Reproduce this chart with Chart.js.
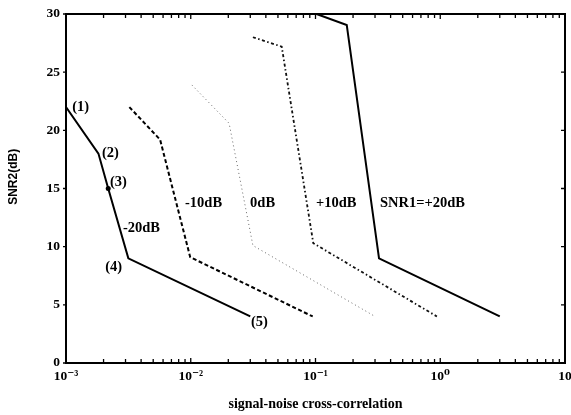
<!DOCTYPE html>
<html>
<head>
<meta charset="utf-8">
<script src="https://cdn.jsdelivr.net/npm/chart.js@4.4.0/dist/chart.umd.min.js"></script>
<style>
  html, body { margin: 0; padding: 0; background: #fff; }
  #wrap { width: 571px; height: 415px; }
</style>
</head>
<body>
<div id="wrap"><canvas id="c" width="571" height="415"></canvas></div>
<script>
// ---- data ----
const seriesNames = ['-20dB', '-10dB', '0dB', '+10dB', 'SNR1=+20dB'];
const xM20 = [0.001, 0.00182, 0.00218, 0.00316, 0.03];
const yM20 = [22, 18, 15, 9, 4];
const xM10 = [0.00322, 0.00568, 0.0099, 0.095];
const yM10 = [22, 19.2, 9.1, 4];
const x0 = [0.0102, 0.0203, 0.0315, 0.3];
const y0 = [23.9, 20.6, 10.1, 4];
const xP10 = [0.0315, 0.0536, 0.096, 0.94];
const yP10 = [28, 27.2, 10.3, 4];
const xP20 = [0.102, 0.178, 0.323, 3.0];
const yP20 = [30, 29.06, 9.0, 4];

const yTicks = [0, 5, 10, 15, 20, 25, 30];
const xDecades = [0.001, 0.01, 0.1, 1, 10];
const xTickLabels = ['10\u207B\u00B3', '10\u207B\u00B2', '10\u207B\u00B9', '10\u2070', '10'];
const yTitle = 'SNR2(dB)';

// in-plot annotations: text, x (data), y (data)
const annText = ['(1)', '(2)', '(3)', '(4)', '(5)', '-20dB', '-10dB', '0dB', '+10dB', 'SNR1=+20dB'];
const annX = [0.00112, 0.00194, 0.00225, 0.00206, 0.0304, 0.00286, 0.009, 0.0299, 0.101, 0.329];
const annY = [22.0, 18.0, 15.5, 8.25, 3.5, 11.6, 13.75, 13.75, 13.75, 13.75];

const pts = (xs, ys) => xs.map((x, i) => ({ x: x, y: ys[i] }));

// all log ticks (1..9 per decade)
const xAllTicks = [];
for (let d = -3; d <= 0; d++) {
  for (let m = 1; m <= 9; m++) xAllTicks.push(m * Math.pow(10, d));
}
xAllTicks.push(10);

const isDecade = v => xDecades.some(d => Math.abs(v - d) / d < 1e-6);
const serif = '"Liberation Serif", "DejaVu Serif", serif';

const framePlugin = {
  id: 'frame',
  afterDraw(chart) {
    const ctx = chart.ctx;
    const a = chart.chartArea;
    const xs = chart.scales.x, ys = chart.scales.y;
    ctx.save();
    ctx.strokeStyle = '#000';
    ctx.lineWidth = 2;
    ctx.strokeRect(a.left, a.top, a.right - a.left, a.bottom - a.top);
    ctx.lineWidth = 1.3;
    ctx.beginPath();
    xAllTicks.forEach(v => {
      const px = xs.getPixelForValue(v);
      const len = isDecade(v) ? 5 : 4;
      ctx.moveTo(px, a.bottom); ctx.lineTo(px, a.bottom - len);
      ctx.moveTo(px, a.top); ctx.lineTo(px, a.top + len);
    });
    yTicks.forEach(v => {
      const py = ys.getPixelForValue(v);
      ctx.moveTo(a.left, py); ctx.lineTo(a.left - 3, py);
      ctx.moveTo(a.right, py); ctx.lineTo(a.right - 4, py);
    });
    ctx.stroke();
    // annotations
    ctx.fillStyle = '#000';
    ctx.font = 'bold 14.5px ' + serif;
    ctx.textBaseline = 'middle';
    ctx.textAlign = 'left';
    annText.forEach((t, i) => {
      ctx.fillText(t, xs.getPixelForValue(annX[i]), ys.getPixelForValue(annY[i]));
    });
    // y axis title
    ctx.save();
    ctx.translate(14, ys.getPixelForValue(16));
    ctx.rotate(-Math.PI / 2);
    ctx.textAlign = 'center';
    ctx.font = 'bold 12px "Liberation Sans", Arial, sans-serif';
    ctx.fillText(yTitle, 0, 0);
    ctx.restore();
    ctx.restore();
  }
};

new Chart(document.getElementById('c'), {
  type: 'line',
  data: {
    datasets: [
      { label: seriesNames[0], data: pts(xM20, yM20), borderColor: '#000', borderWidth: 2,
        pointRadius: [0, 0, 2.5, 0, 0], pointBackgroundColor: '#000', pointBorderWidth: 0 },
      { label: seriesNames[1], data: pts(xM10, yM10), borderColor: '#000', borderWidth: 2,
        borderDash: [4, 2.5], pointRadius: 0 },
      { label: seriesNames[2], data: pts(x0, y0), borderColor: '#666', borderWidth: 1,
        borderDash: [1, 3], pointRadius: 0 },
      { label: seriesNames[3], data: pts(xP10, yP10), borderColor: '#111', borderWidth: 1.8,
        borderDash: [3, 2.5, 1.5, 2.5], pointRadius: 0 },
      { label: seriesNames[4], data: pts(xP20, yP20), borderColor: '#000', borderWidth: 2,
        pointRadius: 0 }
    ]
  },
  options: {
    responsive: false,
    animation: false,
    layout: { padding: { top: 14, right: 6, left: 0, bottom: 0 } },
    plugins: { legend: { display: false }, tooltip: { enabled: false } },
    elements: { line: { tension: 0 } },
    scales: {
      x: {
        type: 'logarithmic',
        min: 0.001, max: 10,
        grid: { display: false, drawTicks: false },
        border: { display: false },
        afterBuildTicks(scale) {
          scale.ticks = xAllTicks.map(v => ({ value: v, major: isDecade(v) }));
        },
        afterFit(scale) { scale.height = 52; scale.paddingLeft = 0; scale.paddingRight = 0; },
        ticks: {
          autoSkip: false, maxRotation: 0, padding: 5, color: '#000',
          font: { family: serif, size: 13.5, weight: 'bold' },
          callback(value) {
            const i = xDecades.findIndex(d => Math.abs(value - d) / d < 1e-6);
            return i >= 0 ? xTickLabels[i] : '';
          }
        },
        title: {
          display: true, text: 'signal-noise cross-correlation', color: '#000',
          font: { family: serif, size: 14, weight: 'bold' },
          padding: { top: 0, bottom: 2 }
        }
      },
      y: {
        type: 'linear',
        min: 0, max: 30,
        grid: { display: false, drawTicks: false },
        border: { display: false },
        afterBuildTicks(scale) {
          scale.ticks = yTicks.map(v => ({ value: v }));
        },
        afterFit(scale) { scale.width = 66; scale.paddingTop = 0; scale.paddingBottom = 0; },
        ticks: {
          padding: 6, color: '#000',
          font: { family: serif, size: 13.5, weight: 'bold' }
        }
      }
    }
  },
  plugins: [framePlugin]
});
</script>
</body>
</html>
